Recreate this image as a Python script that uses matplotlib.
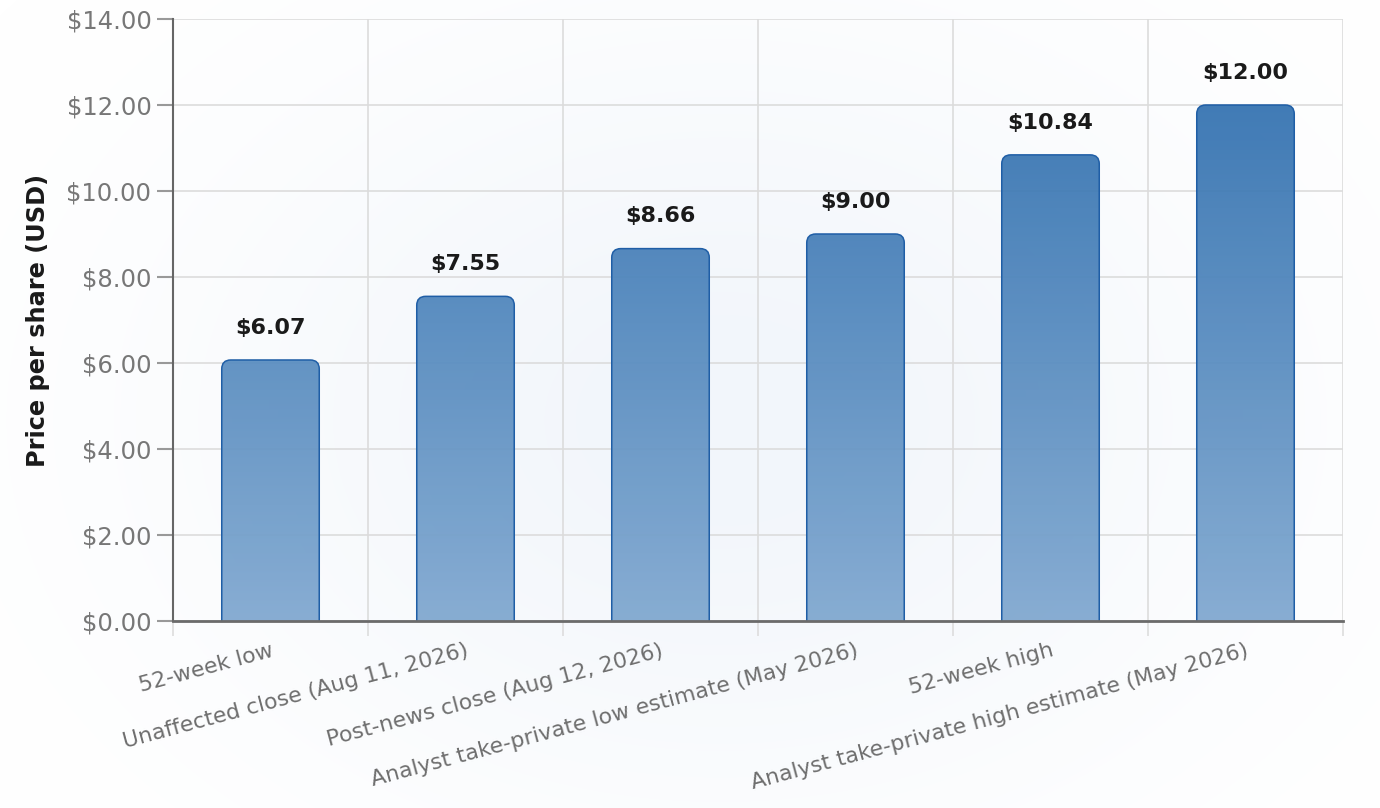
import numpy as np
import matplotlib.pyplot as plt
from matplotlib.colors import LinearSegmentedColormap
from matplotlib.patches import FancyBboxPatch

categories = [
    "52-week low",
    "Unaffected close (Aug 11, 2026)",
    "Post-news close (Aug 12, 2026)",
    "Analyst take-private low estimate (May 2026)",
    "52-week high",
    "Analyst take-private high estimate (May 2026)",
]
prices = [6.07, 7.55, 8.66, 9.00, 10.84, 12.00]
y_ticks = [0, 2, 4, 6, 8, 10, 12, 14]

fig = plt.figure(figsize=(13.8, 8.08), dpi=100)

# faint radial glow behind the plot
bg = fig.add_axes([0, 0, 1, 1], zorder=-10)
yy, xx = np.mgrid[0:808, 0:1380]
d2 = ((xx - 720) / 520) ** 2 + ((yy - 420) / 380) ** 2
glow = np.exp(-d2)
bg_cmap = LinearSegmentedColormap.from_list("bg", ["#ffffff", "#f2f6fb"])
bg.imshow(glow, cmap=bg_cmap, aspect="auto", extent=[0, 1, 0, 1], origin="upper")
bg.axis("off")

ax = fig.add_axes([173 / 1380, 1 - 621 / 808, 1170 / 1380, 602 / 808])
ax.patch.set_alpha(0)

x = np.arange(len(categories))

bar_cmap = LinearSegmentedColormap.from_list("bar", ["#80a8d0", "#3271b0"])
grad = np.linspace(0, 1, 256).reshape(-1, 1)

px_x = 6 / 1170
px_y = 14 / 602
r = 9 * px_x
for xi, v in zip(x, prices):
    box = FancyBboxPatch((xi - 0.25, -1), 0.5, v + 1,
                         boxstyle=f"round,pad=0,rounding_size={r}",
                         mutation_aspect=px_y / px_x,
                         facecolor="none", edgecolor="#1f5ea6", linewidth=1.1, zorder=3)
    ax.add_patch(box)
    im = ax.imshow(grad, cmap=bar_cmap, extent=[-0.5, 5.5, 0, 12.3], origin="lower",
                   aspect="auto", alpha=0.94, zorder=2)
    im.set_clip_path(box)
    ax.annotate(f"${v:.2f}", (xi, v), xytext=(0, 16), textcoords="offset points",
                ha="center", va="bottom", fontsize=16, fontweight="bold", color="#1a1a1a")

ax.set_xlim(-0.5, len(categories) - 0.5)
ax.set_ylim(0, 14)

ax.set_yticks(y_ticks)
ax.set_yticklabels([f"${t:.2f}" for t in y_ticks])
ax.set_xticks(x)
ax.set_xticklabels(categories, rotation=15, ha="right", va="top", rotation_mode="anchor")
ax.set_xticks(np.arange(-0.5, len(categories)), minor=True)

ax.tick_params(axis="y", labelsize=17.5, labelcolor="#777777", color="#999999",
               length=11.5, width=1.5, pad=4)
ax.tick_params(axis="x", which="major", labelsize=15.8, labelcolor="#6e6e6e", length=0, pad=14)
ax.tick_params(axis="x", which="minor", length=11, color="#dddddd", width=1.2)

ax.grid(axis="y", color="#dcdcdc", linewidth=1.2, zorder=0)
ax.grid(axis="x", which="minor", color="#dcdcdc", linewidth=1.2, zorder=0)
ax.set_axisbelow(True)

for s in ["top", "right"]:
    ax.spines[s].set_visible(False)
ax.spines["left"].set_color("#666666")
ax.spines["left"].set_linewidth(1.5)
ax.spines["bottom"].set_color("#6b6b6b")
ax.spines["bottom"].set_linewidth(2)
ax.spines["bottom"].set_zorder(5)

ax.set_ylabel("Price per share (USD)", fontsize=17.3, fontweight="bold", color="#1a1a1a", labelpad=12)

fig.savefig("out.png", dpi=100)
